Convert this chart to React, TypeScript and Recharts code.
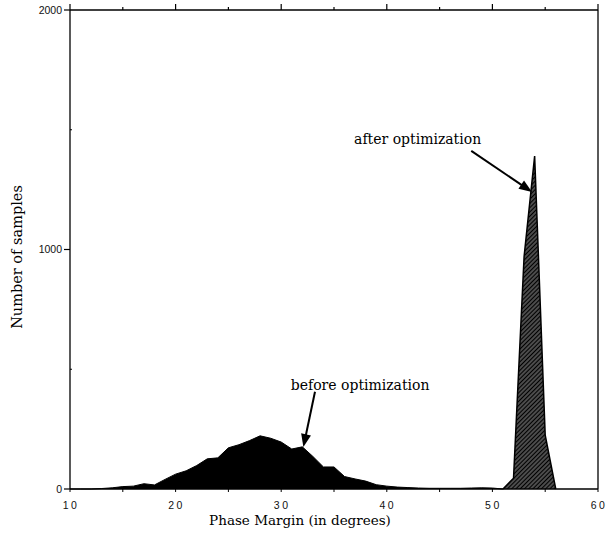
import React from 'react';
import {
  AreaChart,
  Area,
  XAxis,
  YAxis,
  ReferenceLine,
  ReferenceDot,
  Label
} from 'recharts';

// phase margin bins (degrees)
const phaseDeg = [
  10, 11, 12, 13, 14, 15, 16, 17, 18, 19,
  20, 21, 22, 23, 24, 25, 26, 27, 28, 29,
  30, 31, 32, 33, 34, 35, 36, 37, 38, 39,
  40, 41, 42, 43, 44, 45, 46, 47, 48, 49,
  50, 51, 52, 53, 54, 55, 56
];

// number of samples before optimization
const beforeCounts = [
  0, 0, 0, 2, 5, 10, 12, 22, 17, 40,
  62, 76, 98, 126, 130, 172, 185, 202, 222, 212,
  196, 167, 176, 136, 92, 92, 52, 42, 33, 18,
  12, 8, 6, 4, 3, 3, 3, 3, 4, 5,
  4, 0, null, null, null, null, null
];

// number of samples after optimization
const afterCounts = [
  null, null, null, null, null, null, null, null, null, null,
  null, null, null, null, null, null, null, null, null, null,
  null, null, null, null, null, null, null, null, null, null,
  null, null, null, null, null, null, null, null, null, null,
  null, 0, 45, 970, 1390, 225, 0
];

const xTicks = [10, 15, 20, 25, 30, 35, 40, 45, 50, 55, 60];
const yTicks = [0, 500, 1000, 1500, 2000];

const data = phaseDeg.map((p, i) => ({
  phase: p,
  before: beforeCounts[i],
  after: afterCounts[i]
}));

const tickFont = { fontFamily: '"Liberation Sans", Arial, sans-serif', fontSize: 10.5, fill: '#111' };
const serif = '"DejaVu Serif", serif';

const BottomTick = ({ x, y, payload }: any) => (
  <g>
    <line x1={x} y1={y} x2={x} y2={y + 3} stroke="#000" strokeWidth={1} />
    {payload.value % 10 === 0 && (
      <text x={x + 1} y={y + 20} textAnchor="middle" letterSpacing={2.5} {...tickFont}>
        {payload.value}
      </text>
    )}
  </g>
);

const TopTick = ({ x, y, payload }: any) => (
  <line x1={x} y1={y} x2={x} y2={y - (payload.value % 10 === 0 ? 6 : 3)} stroke="#000" strokeWidth={1.2} />
);

const LeftTick = ({ x, y, payload }: any) => {
  const major = payload.value % 1000 === 0;
  return (
    <g>
      {major ? (
        <line x1={x - 6} y1={y} x2={x} y2={y} stroke="#000" strokeWidth={1.2} />
      ) : (
        <line x1={x} y1={y} x2={x + 2} y2={y} stroke="#000" strokeWidth={1} />
      )}
      {major && (
        <text x={x - 8} y={y + 3.5} textAnchor="end" {...tickFont}>
          {payload.value}
        </text>
      )}
    </g>
  );
};

const Arrow = (p: any) => {
  const { x1, y1, x2, y2 } = p;
  const dx = x2 - x1;
  const dy = y2 - y1;
  const len = Math.hypot(dx, dy) || 1;
  const ux = dx / len;
  const uy = dy / len;
  const hl = 13;
  const hw = 5;
  const bx = x2 - ux * hl;
  const by = y2 - uy * hl;
  return (
    <g>
      <line x1={x1} y1={y1} x2={bx + ux * 2} y2={by + uy * 2} stroke="#000" strokeWidth={2} />
      <polygon
        points={`${x2},${y2} ${bx - uy * hw},${by + ux * hw} ${bx + uy * hw},${by - ux * hw}`}
        fill="#000"
      />
    </g>
  );
};

const Note = (text: string) => (p: any) => (
  <text x={p.cx} y={p.cy} fontFamily={serif} fontSize={14} fill="#000">
    {text}
  </text>
);

export default function App() {
  return (
    <div style={{ position: 'absolute', left: 0, top: 0, background: '#fff' }}>
      <AreaChart
        width={607}
        height={536}
        data={data}
        margin={{ top: 9, right: 8, bottom: 17, left: 30 }}
      >
        <defs>
          <pattern id="hatch" patternUnits="userSpaceOnUse" width={3} height={3} patternTransform="rotate(45)">
            <rect x={0} y={0} width={3} height={3} fill="#000" />
            <line x1={1} y1={0} x2={1} y2={3} stroke="#fff" strokeWidth={0.6} />
          </pattern>
        </defs>
        <XAxis
          dataKey="phase"
          type="number"
          domain={[10, 60]}
          ticks={xTicks}
          height={30}
          tickLine={false}
          tickSize={0}
          tickMargin={0}
          tick={<BottomTick />}
          axisLine={{ stroke: '#000', strokeWidth: 1.3 }}
          interval={0}
        >
          <Label
            content={() => (
              <text x={300} y={525} textAnchor="middle" fontFamily={serif} fontSize={13.5} fill="#000">
                Phase Margin (in degrees)
              </text>
            )}
          />
        </XAxis>
        <XAxis
          xAxisId="top"
          dataKey="phase"
          type="number"
          orientation="top"
          domain={[10, 60]}
          ticks={xTicks}
          height={1}
          tickLine={false}
          tickSize={0}
          tickMargin={0}
          tick={<TopTick />}
          axisLine={{ stroke: '#000', strokeWidth: 1.3 }}
          interval={0}
        />
        <YAxis
          type="number"
          domain={[0, 2000]}
          ticks={yTicks}
          width={40}
          tickLine={false}
          tickSize={0}
          tickMargin={0}
          tick={<LeftTick />}
          axisLine={{ stroke: '#000', strokeWidth: 1.3 }}
          interval={0}
        >
          <Label
            content={() => (
              <text
                x={22}
                y={257}
                textAnchor="middle"
                transform="rotate(-90 22 257)"
                fontFamily={serif}
                fontSize={14.5}
                fill="#000"
              >
                Number of samples
              </text>
            )}
          />
        </YAxis>
        <YAxis
          yAxisId="right"
          orientation="right"
          type="number"
          domain={[0, 2000]}
          width={1}
          tick={false}
          tickLine={false}
          axisLine={{ stroke: '#000', strokeWidth: 1.3 }}
        />
        <Area
          type="linear"
          dataKey="before"
          stroke="#000"
          strokeWidth={1}
          fill="#000"
          fillOpacity={1}
          dot={false}
          activeDot={false}
          isAnimationActive={false}
        />
        <Area
          type="linear"
          dataKey="after"
          stroke="#000"
          strokeWidth={1.5}
          fill="url(#hatch)"
          fillOpacity={1}
          dot={false}
          activeDot={false}
          isAnimationActive={false}
        />
        <ReferenceLine segment={[{ x: 48.0, y: 1412 }, { x: 53.75, y: 1240 }]} shape={Arrow} />
        <ReferenceLine segment={[{ x: 33.2, y: 406 }, { x: 32.1, y: 175 }]} shape={Arrow} />
        <ReferenceDot x={36.9} y={1440} r={0} shape={Note('after optimization')} />
        <ReferenceDot x={30.9} y={413} r={0} shape={Note('before optimization')} />
      </AreaChart>
    </div>
  );
}
